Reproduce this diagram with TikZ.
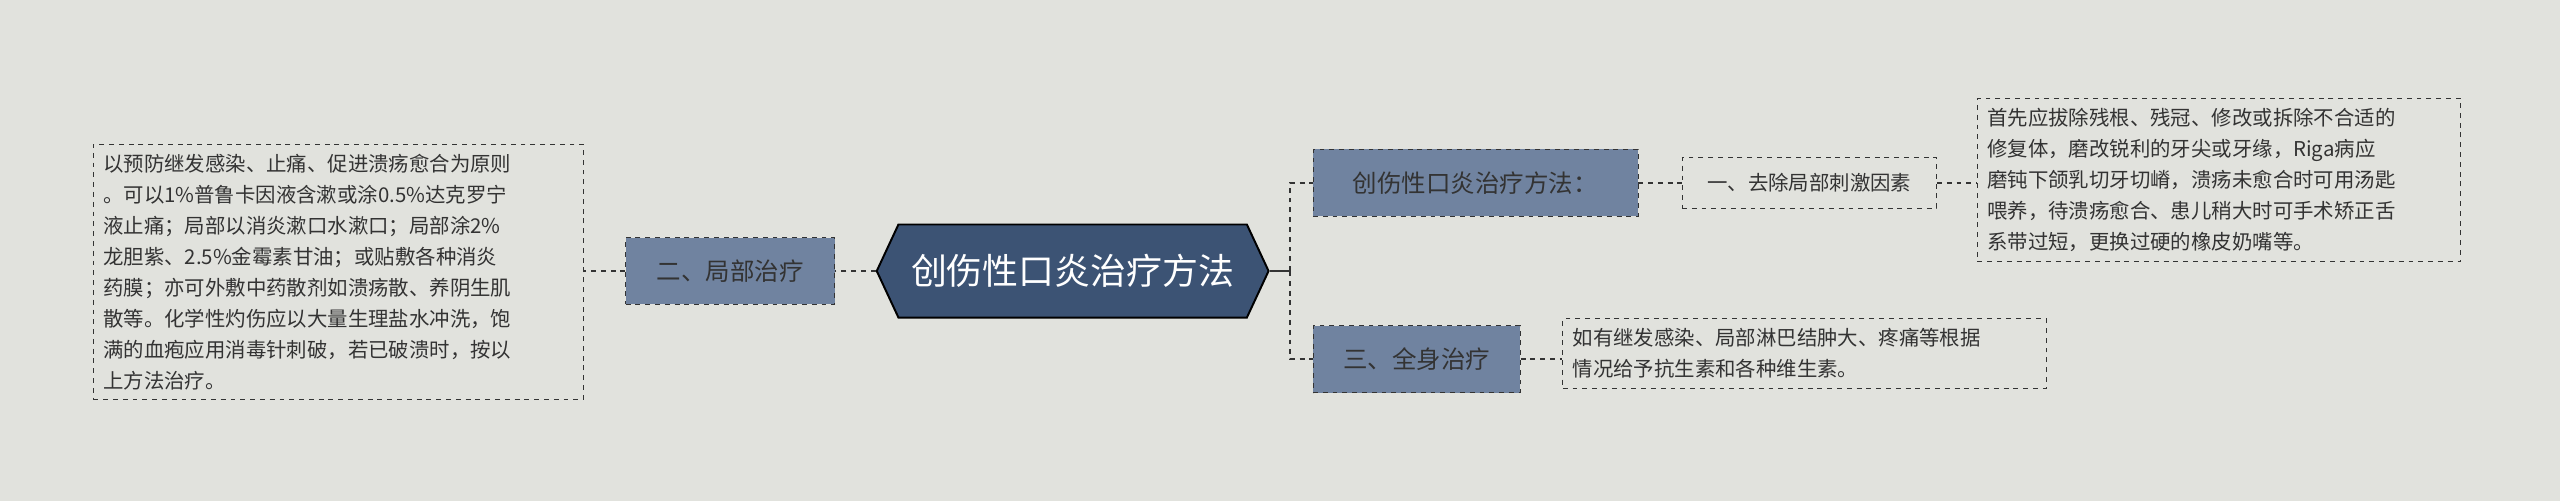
\documentclass[tikz,border=0pt]{standalone}
\usepackage{fontspec}
\setmainfont{Noto Sans CJK SC}
\usetikzlibrary{shapes.geometric,shapes.misc,shapes.symbols}
\definecolor{bg}{HTML}{E1E2DD}
\definecolor{dk}{HTML}{3C5374}
\definecolor{md}{HTML}{7083A0}
\definecolor{tx}{HTML}{333333}
\tikzset{x=1pt,y=-1pt,
 lvl/.style={draw=tx,dashed,fill=md,text=tx,font=\fontsize{15}{18}\selectfont,minimum height=41pt,inner xsep=8pt,anchor=west},
 leaf/.style={draw=tx,dashed,text=tx,font=\fontsize{12.5}{19}\selectfont,align=left,inner sep=6pt,anchor=north west},
 con/.style={draw=tx,dashed,line width=0.9pt}}
\begin{document}
\begin{tikzpicture}
\fill[bg] (0,0) rectangle (1568,307);
\useasboundingbox (0,0) rectangle (1568,307);
\node[signal,signal to=west and east,signal pointer angle=130,draw=black,line width=1.2pt,fill=dk,text=white,font=\fontsize{22}{26}\selectfont,minimum height=57pt,minimum width=240pt,inner xsep=2pt] (c) at (657,166) {创伤性口炎治疗方法};
\node[lvl,minimum width=128pt] (l) at (383,166) {二、局部治疗};
\node[leaf,text width=288pt] (lt) at (57,88) {以预防继发感染、止痛、促进溃疡愈合为原则\\。可以1\%普鲁卡因液含漱或涂0.5\%达克罗宁\\液止痛；局部以消炎漱口水漱口；局部涂2\%\\龙胆紫、2.5\%金霉素甘油；或贴敷各种消炎\\药膜；亦可外敷中药散剂如溃疡散、养阴生肌\\散等。化学性灼伤应以大量生理盐水冲洗，饱\\满的血疱应用消毒针刺破，若已破溃时，按以\\上方法治疗。};
\node[lvl,minimum width=199pt] (r1) at (804,112) {创伤性口炎治疗方法：};
\node[draw=tx,dashed,text=tx,font=\fontsize{12.5}{15}\selectfont,minimum height=31pt,minimum width=156pt,anchor=west] (r2) at (1030,112) {一、去除局部刺激因素};
\node[leaf,text width=284pt] (rt) at (1211,60) {首先应拔除残根、残冠、修改或拆除不合适的\\修复体，磨改锐利的牙尖或牙缘，Riga病应\\磨钝下颌乳切牙切嵴，溃疡未愈合时可用汤匙\\喂养，待溃疡愈合、患儿稍大时可手术矫正舌\\系带过短，更换过硬的橡皮奶嘴等。};
\node[lvl,minimum width=127pt] (r3) at (804,220) {三、全身治疗};
\node[leaf,text width=284pt] (r3t) at (957,195) {如有继发感染、局部淋巴结肿大、疼痛等根据\\情况给予抗生素和各种维生素。};
\coordinate (j) at (790,166);
\draw[con,solid] (c.east) -- (j);
\draw[con] (j) |- (r1.west);
\draw[con] (j) |- (r3.west);
\draw[con] (r1.east) -- (r2.west);
\draw[con] (r2.east) -- (rt.west|-r2.east);
\draw[con] (r3.east) -- (r3t.west|-r3.east);
\draw[con] (c.west) -- (l.east);
\draw[con] (l.west) -- (lt.east|-l.west);
\end{tikzpicture}
\end{document}
